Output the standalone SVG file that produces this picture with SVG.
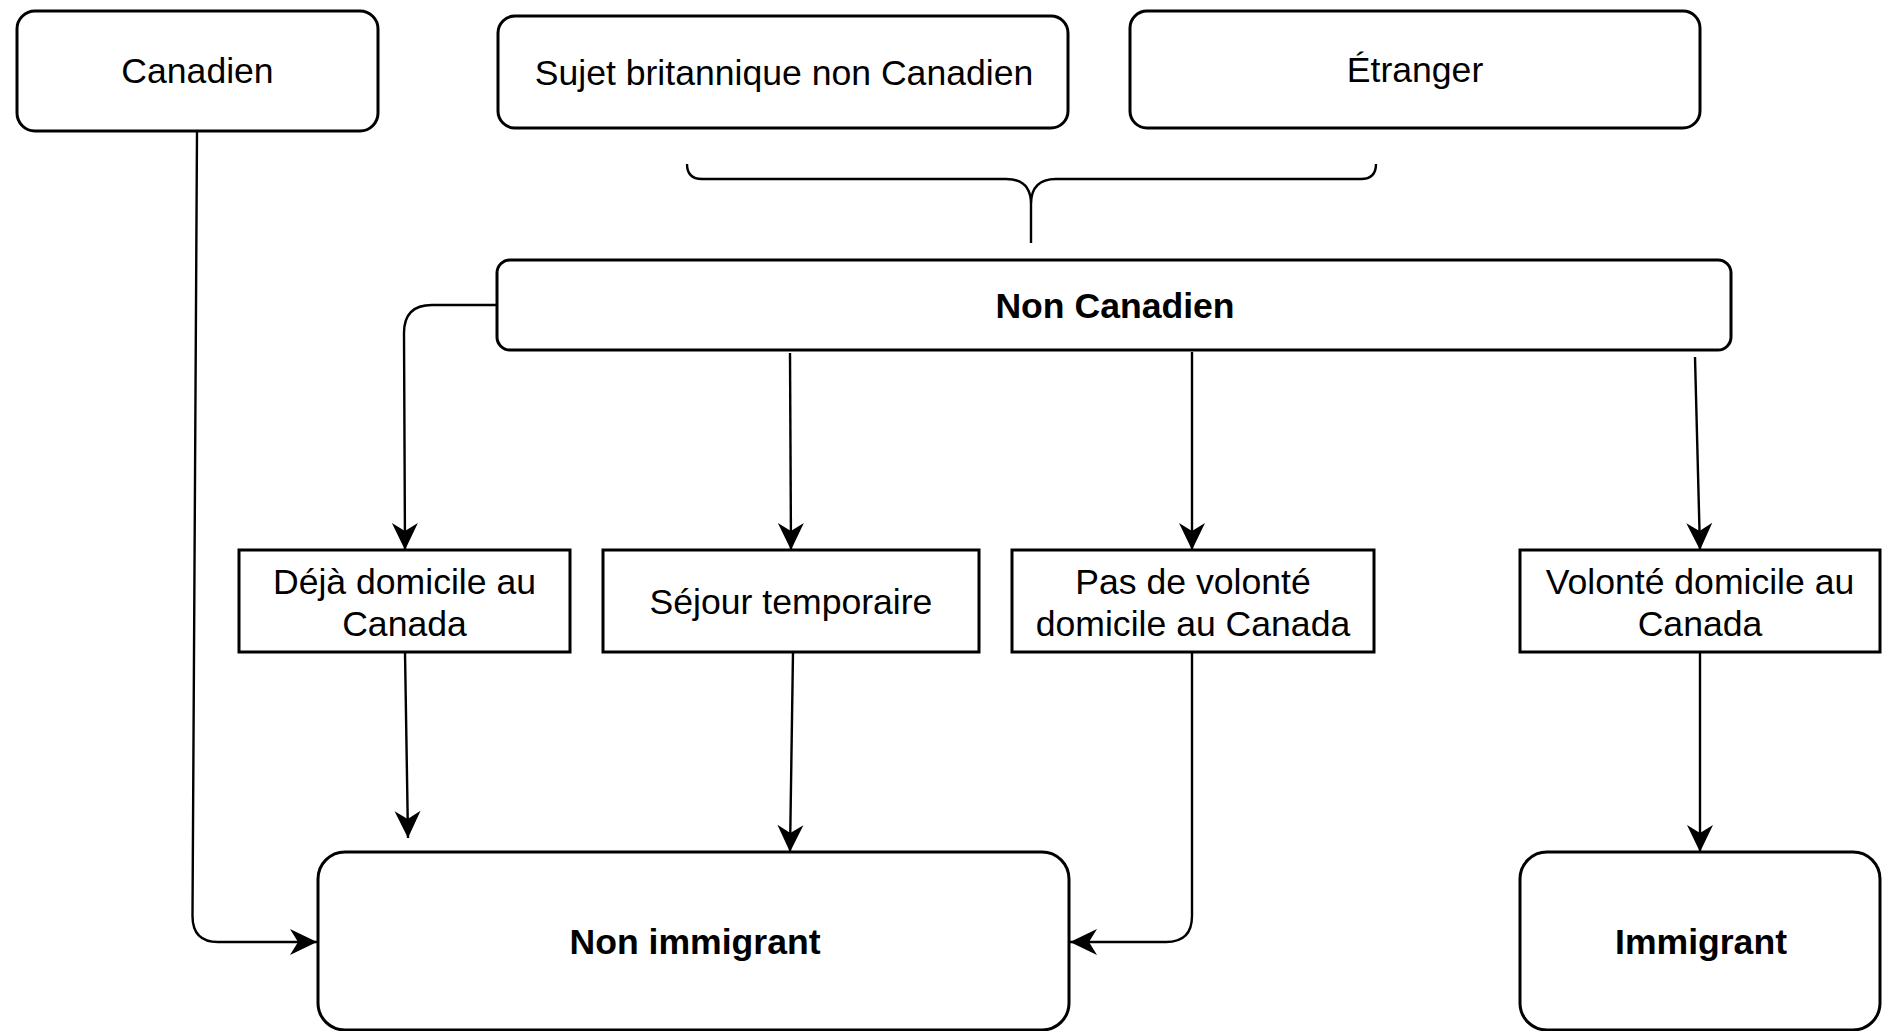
<svg xmlns="http://www.w3.org/2000/svg" width="1888" height="1031" viewBox="0 0 1888 1031">
<defs>
<style>
.box{fill:#fff;stroke:#000;stroke-width:3}
.t{font-family:"Liberation Sans",Arial,Helvetica,sans-serif;font-size:35.6px;fill:#000;text-anchor:middle}
.b{font-weight:bold}
.c{fill:none;stroke:#000;stroke-width:2.4}
</style>
<marker id="arr" markerUnits="userSpaceOnUse" markerWidth="30" markerHeight="30" viewBox="-1 -14 30 28" refX="27" refY="0" orient="auto">
<path d="M0,-13 L27,0 L0,13 L8,0 Z" fill="#000"/>
</marker>
</defs>
<rect width="1888" height="1031" fill="#fff"/>

<g id="canadien">
<rect class="box" x="17" y="11" width="361" height="120" rx="18"/>
<text class="t" x="197.5" y="83">Canadien</text>
</g>
<g id="sujet">
<rect class="box" x="498" y="16" width="570" height="112" rx="17"/>
<text class="t" x="784" y="85">Sujet britannique non Canadien</text>
</g>
<g id="etranger">
<rect class="box" x="1130" y="11" width="570" height="117" rx="17"/>
<text class="t" x="1415" y="82">Étranger</text>
</g>
<g id="brace">
<path class="c" stroke-width="3" d="M687,164 Q687,179 702,179 L1006,179 Q1031,179 1031,204 L1031,243 M1031,204 Q1031,179 1056,179 L1361,179 Q1376,179 1376,164"/>
</g>
<g id="non-canadien">
<rect class="box" x="497" y="260" width="1234" height="90" rx="13"/>
<text class="t b" x="1115" y="318">Non Canadien</text>
</g>
<g id="deja">
<rect class="box" x="239" y="550" width="331" height="102"/>
<text class="t" x="404.5" y="594">Déjà domicile au</text>
<text class="t" x="404.5" y="636">Canada</text>
</g>
<g id="sejour">
<rect class="box" x="603" y="550" width="376" height="102"/>
<text class="t" x="791" y="614">Séjour temporaire</text>
</g>
<g id="pas-volonte">
<rect class="box" x="1012" y="550" width="362" height="102"/>
<text class="t" x="1193" y="594">Pas de volonté</text>
<text class="t" x="1193" y="636">domicile au Canada</text>
</g>
<g id="volonte">
<rect class="box" x="1520" y="550" width="360" height="102"/>
<text class="t" x="1700" y="594">Volonté domicile au</text>
<text class="t" x="1700" y="636">Canada</text>
</g>
<g id="non-immigrant">
<rect class="box" x="318" y="852" width="751" height="178" rx="27"/>
<text class="t b" x="695" y="954">Non immigrant</text>
</g>
<g id="immigrant">
<rect class="box" x="1520" y="852" width="360" height="178" rx="27"/>
<text class="t b" x="1701" y="954">Immigrant</text>
</g>

<g id="connectors">
<path class="c" marker-end="url(#arr)" d="M197,131 L192.5,916 Q192.5,942 218,942 L317,942"/>
<path class="c" marker-end="url(#arr)" d="M497,305 L432,305 Q404,305 404,333 L405,550"/>
<path class="c" marker-end="url(#arr)" d="M790,353 L791,550"/>
<path class="c" marker-end="url(#arr)" d="M1192,352 L1192,550"/>
<path class="c" marker-end="url(#arr)" d="M1695,357 L1700,550"/>
<path class="c" marker-end="url(#arr)" d="M405,652 L408,838"/>
<path class="c" marker-end="url(#arr)" d="M793,652 L790,852"/>
<path class="c" marker-end="url(#arr)" d="M1192,652 L1192,916 Q1192,942 1166,942 L1070,942"/>
<path class="c" marker-end="url(#arr)" d="M1700,652 L1700,852"/>
</g>
</svg>
